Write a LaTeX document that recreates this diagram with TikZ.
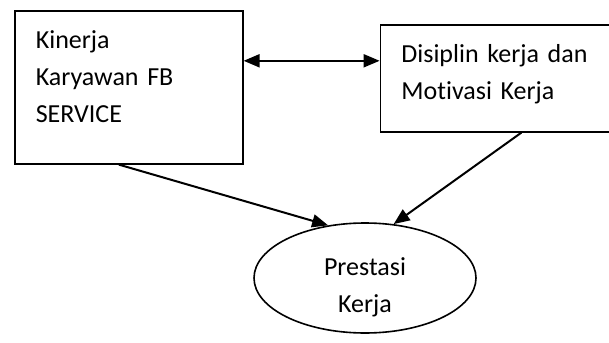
\documentclass[tikz,border=0pt]{standalone}
\usepackage{fontspec}
\setmainfont[Ligatures=NoCommon]{Carlito}
\usetikzlibrary{positioning, arrows.meta, shapes.geometric}

\begin{document}
\begin{tikzpicture}[
    font={\fontsize{13pt}{18.5pt}\selectfont},
    box/.style={rectangle, draw, line width=0.8pt, align=left,
                inner xsep=10.5pt, inner ysep=10pt, text height=9pt},
    oval/.style={ellipse, draw, line width=0.8pt, align=center, inner sep=0pt,
                 minimum width=111pt, minimum height=55pt, text width=60pt,
                 text height=9pt, text depth=12pt},
    arrow/.style={-{Triangle[length=8pt, width=6.5pt]}, line width=1pt}
]
\useasboundingbox (0,0) rectangle (304.5pt,-171pt);

% Boxes
\node[box, anchor=north west, text width=93pt, text depth=47.5pt]
     (kinerja) at (7pt,-5pt) {Kinerja\\Karyawan FB\\SERVICE};
\node[box, below right=7pt and 68pt of kinerja.north east,
      text width=96pt, text depth=24.5pt]
     (disiplin) {Disiplin kerja dan\\Motivasi Kerja};

% Result
\node[oval] (prestasi) at (182.5pt,-139pt) {Prestasi\\Kerja};

% Arrows
\draw[arrow, {Triangle[length=8pt, width=6.5pt]}-{Triangle[length=8pt, width=6.5pt]}]
     ([yshift=13.25pt]kinerja.east) -- ([yshift=8.75pt]disiplin.west);
\draw[arrow] ([xshift=-5pt]kinerja.south) -- (prestasi.125);
\draw[arrow] ([xshift=12pt]disiplin.south) -- (prestasi.62);

\end{tikzpicture}
\end{document}
